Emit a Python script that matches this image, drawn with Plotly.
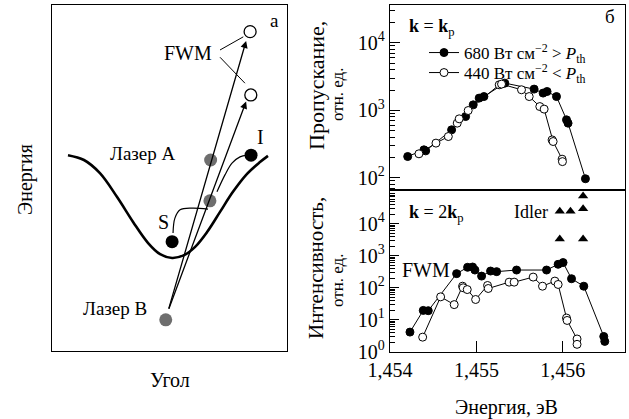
import plotly.graph_objects as go

W, H = 629, 419
FONT = "Liberation Serif, DejaVu Serif, serif"

# ---------------- Panel б, top: transmission (k = kp) ----------------
e_top_680 = [1.454205, 1.454393, 1.454413, 1.454713, 1.454875, 1.454963, 1.455032, 1.455087,
             1.455329, 1.455668, 1.455772, 1.455818, 1.455927, 1.456043, 1.456061, 1.456262]
t_top_680 = [207, 260, 251, 514, 809, 1205, 1517, 1600,
             2528, 2061, 1800, 1900, 1600, 723, 646, 97]

e_top_440 = [1.454335, 1.454532, 1.454675, 1.454778, 1.454801, 1.454905, 1.455264, 1.455291,
             1.455522, 1.455611, 1.455734, 1.455784, 1.455876, 1.455888, 1.455992, 1.455996]
t_top_440 = [227, 327, 409, 646, 748, 993, 2388, 2444,
             2015, 1600, 1137, 1042, 365, 345, 189, 174]

# ---------------- Panel б, bottom: FWM intensity (k = 2kp) ----------------
e_bot_680 = [1.454231, 1.454385, 1.454443, 1.454771, 1.454898, 1.454956, 1.454983, 1.455060,
             1.455164, 1.455234, 1.455465, 1.455812, 1.455946, 1.456003, 1.456101, 1.456243,
             1.456474, 1.456486]
i_bot_680 = [4.1, 19.6, 19.2, 277, 437, 447, 359, 232,
             334, 320, 359, 359, 543, 615, 192, 112,
             3.0, 2.1]

e_bot_440 = [1.454378, 1.454586, 1.454743, 1.454840, 1.454847, 1.454894, 1.454991, 1.455129,
             1.455137, 1.455379, 1.455437, 1.455657, 1.455765, 1.455908, 1.455946, 1.456043,
             1.456050, 1.456165, 1.456165]
i_bot_440 = [2.85, 52, 29.7, 112, 100, 88, 43, 118,
             95, 150, 150, 216, 112, 162, 127, 11.3,
             9.5, 2.5, 1.7]

e_idler = [1.455965, 1.456089, 1.456235, 1.456235, 1.455965, 1.456235]
i_idler = [24900, 24900, 29500, 74300, 3340, 3340]

x_tickvals = [1.454, 1.455, 1.456]
x_ticktext = ["1,454", "1,455", "1,456"]
top_tickvals = [1e2, 1e3, 1e4]
top_ticktext = ["10<sup>2</sup>", "10<sup>3</sup>", "10<sup>4</sup>"]
bot_tickvals = [1e0, 1e1, 1e2, 1e3, 1e4]
bot_ticktext = ["10<sup>0</sup>", "10<sup>1</sup>", "10<sup>2</sup>", "10<sup>3</sup>", "10<sup>4</sup>"]
minor_mantissas = [2, 3, 4, 5, 6, 7, 8, 9]
top_decades = [10, 100, 1000, 10000]
bot_decades = [1, 10, 100, 1000, 10000]

# ---------------- Panel а: schematic (arbitrary units, angle vs energy) ----------------
disp_angle = [6.8, 13.6, 20.4, 27.7, 34.5, 40.9, 46.0, 51.1, 56.2, 60.9, 66.0, 71.5, 77.0, 83.0, 88.5, 91.9]
disp_energy = [56.6, 55.2, 51.4, 44.5, 37.3, 31.2, 28.0, 26.9, 27.7, 30.1, 34.4, 40.2, 46.0, 51.2, 54.6, 56.4]

gray_angle = [48.4, 67.2, 67.5]          # Laser B, pump on curve, Laser A
gray_energy = [9.0, 43.4, 55.2]
black_angle = [51.1, 84.7]               # S, I
black_energy = [31.6, 56.6]
fwm_angle = [84.3, 84.6]
fwm_energy = [92.3, 74.0]

s_path_angle = [66.4, 59.6, 54.5, 52.3, 51.5]
s_path_energy = [41.0, 41.3, 40.8, 38.4, 34.1]
i_path_angle = [70.2, 73.6, 76.6, 80.0, 83.0]
i_path_energy = [46.0, 50.9, 54.3, 56.1, 56.6]

arrow_start = (49.5, 11.8)
arrow_ends = [(82.6, 89.6), (82.6, 72.1)]
leader_from = [(71.5, 87.0), (71.5, 84.9)]
leader_to = [(81.4, 90.8), (82.1, 77.4)]


def px(xp):
    return xp / W


def py(yp):
    return 1 - yp / H


fig = go.Figure()

# bottom panel traces
fig.add_trace(go.Scatter(x=e_bot_680, y=i_bot_680, mode="lines+markers", xaxis="x", yaxis="y",
                         line=dict(color="black", width=1),
                         marker=dict(symbol="circle", size=8, color="black", line=dict(color="black", width=1)),
                         showlegend=False))
fig.add_trace(go.Scatter(x=e_bot_440, y=i_bot_440, mode="lines+markers", xaxis="x", yaxis="y",
                         line=dict(color="black", width=1),
                         marker=dict(symbol="circle", size=8, color="white", line=dict(color="black", width=1)),
                         showlegend=False))
fig.add_trace(go.Scatter(x=e_idler, y=i_idler, mode="markers", xaxis="x", yaxis="y",
                         marker=dict(symbol="triangle-up", size=9, color="black"),
                         showlegend=False, cliponaxis=False))

# top panel traces
fig.add_trace(go.Scatter(x=e_top_680, y=t_top_680, mode="lines+markers", xaxis="x2", yaxis="y2",
                         line=dict(color="black", width=1),
                         marker=dict(symbol="circle", size=8, color="black", line=dict(color="black", width=1)),
                         name="680 Вт см<sup>−2</sup> > <i>P</i><sub>th</sub>", legend="legend"))
fig.add_trace(go.Scatter(x=e_top_440, y=t_top_440, mode="lines+markers", xaxis="x2", yaxis="y2",
                         line=dict(color="black", width=1),
                         marker=dict(symbol="circle", size=8, color="white", line=dict(color="black", width=1)),
                         name="440 Вт см<sup>−2</sup> < <i>P</i><sub>th</sub>", legend="legend2"))

# panel a traces
fig.add_trace(go.Scatter(x=disp_angle, y=disp_energy, mode="lines", xaxis="x3", yaxis="y3",
                         line=dict(color="black", width=2.6, shape="spline"), showlegend=False))
fig.add_trace(go.Scatter(x=s_path_angle, y=s_path_energy, mode="lines", xaxis="x3", yaxis="y3",
                         line=dict(color="black", width=1.2, shape="spline"), showlegend=False))
fig.add_trace(go.Scatter(x=i_path_angle, y=i_path_energy, mode="lines", xaxis="x3", yaxis="y3",
                         line=dict(color="black", width=1.2, shape="spline"), showlegend=False))
for (x0, y0), (x1, y1) in zip(leader_from, leader_to):
    fig.add_trace(go.Scatter(x=[x0, x1], y=[y0, y1], mode="lines", xaxis="x3", yaxis="y3",
                             line=dict(color="black", width=1), showlegend=False))
fig.add_trace(go.Scatter(x=gray_angle, y=gray_energy, mode="markers", xaxis="x3", yaxis="y3",
                         marker=dict(size=13, color="#6e6e6e"), showlegend=False))
fig.add_trace(go.Scatter(x=black_angle, y=black_energy, mode="markers", xaxis="x3", yaxis="y3",
                         marker=dict(size=13, color="black"), showlegend=False))
fig.add_trace(go.Scatter(x=fwm_angle, y=fwm_energy, mode="markers", xaxis="x3", yaxis="y3",
                         marker=dict(size=12, color="white", line=dict(color="black", width=1.3)),
                         showlegend=False))

ann = []
for (x1, y1) in arrow_ends:
    ann.append(dict(x=x1, y=y1, ax=arrow_start[0], ay=arrow_start[1], xref="x3", yref="y3",
                    axref="x3", ayref="y3", showarrow=True, arrowhead=2, arrowsize=1.1,
                    arrowwidth=1.3, arrowcolor="black", text=""))

tf = dict(family=FONT, color="black")


def label(text, x, y, size, xref="x3", yref="y3", xanchor="center", yanchor="middle", angle=0):
    ann.append(dict(text=text, x=x, y=y, xref=xref, yref=yref, showarrow=False,
                    xanchor=xanchor, yanchor=yanchor, textangle=angle, font=dict(size=size, **tf)))


# panel a labels
label("FWM", 58.0, 86.0, 20)
label("Лазер A", 38.9, 57.1, 19)
label("Лазер B", 26.8, 12.4, 19)
label("S", 47.4, 37.4, 20)
label("I", 88.9, 61.9, 20)
label("а", 94.5, 95.5, 19)
label("Энергия", px(25), py(180), 20, "paper", "paper", angle=-90)
label("Угол", px(170), py(380), 20, "paper", "paper")

# panel b labels
label("<b>k</b> = <b>k</b><sub>p</sub>", px(407), py(27), 18, "paper", "paper", xanchor="left")
label("б", px(617), py(17), 19, "paper", "paper", xanchor="right")
label("<b>k</b> = 2<b>k</b><sub>p</sub>", px(407), py(213), 18, "paper", "paper", xanchor="left")
label("Idler", px(512), py(212), 18, "paper", "paper", xanchor="left")
label("FWM", px(400), py(270), 20, "paper", "paper", xanchor="left")
label("Пропускание,", px(316), py(85), 22, "paper", "paper", angle=-90)
label("отн. ед.", px(337), py(94), 17, "paper", "paper", angle=-90)
label("Интенсивность,", px(316), py(268), 21, "paper", "paper", angle=-90)
label("отн. ед.", px(337), py(280), 17, "paper", "paper", angle=-90)
label("Энергия, эВ", px(506), py(407), 20, "paper", "paper")

axis_common = dict(showline=True, linecolor="black", linewidth=1.3, mirror=True, automargin=False,
                   showgrid=False, zeroline=False, tickfont=dict(size=20, **tf))

top_minor = [m * d for d in top_decades for m in minor_mantissas]
bot_minor = [m * d for d in bot_decades for m in minor_mantissas]

legend_common = dict(xanchor="left", yanchor="middle", bgcolor="rgba(0,0,0,0)",
                     font=dict(size=17, **tf), itemwidth=30)

fig.update_layout(
    width=W, height=H, margin=dict(l=0, r=0, t=0, b=0, autoexpand=False),
    paper_bgcolor="white", plot_bgcolor="white",
    font=dict(family=FONT, color="black"),
    annotations=ann,
    legend=dict(x=px(424), y=py(53), **legend_common),
    legend2=dict(x=px(424), y=py(73), **legend_common),
    xaxis=dict(domain=[px(390), px(625)], range=[1.454, 1.45672], anchor="y",
               tickvals=x_tickvals, ticktext=x_ticktext, ticks="inside", ticklen=11,
               tickcolor="black", tickwidth=1, **axis_common),
    yaxis=dict(domain=[py(352), py(190)], type="log", range=[-0.01, 5.06], anchor="x",
               tickvals=bot_tickvals, ticktext=bot_ticktext, ticks="inside", ticklen=9,
               tickcolor="black", tickwidth=1,
               minor=dict(tickmode="array", tickvals=bot_minor, ticks="inside", ticklen=5,
                          tickcolor="black", tickwidth=1, showgrid=False),
               **axis_common),
    xaxis2=dict(domain=[px(390), px(625)], range=[1.454, 1.45672], anchor="y2",
                showticklabels=False, ticks="", **axis_common),
    yaxis2=dict(domain=[py(190), py(5)], type="log", range=[1.82, 4.56], anchor="x2",
                tickvals=top_tickvals, ticktext=top_ticktext, ticks="inside", ticklen=10,
                tickcolor="black", tickwidth=1,
                minor=dict(tickmode="array", tickvals=top_minor, ticks="inside", ticklen=5,
                           tickcolor="black", tickwidth=1, showgrid=False),
                **axis_common),
    xaxis3=dict(domain=[px(52), px(287)], range=[0, 100], anchor="y3",
                showticklabels=False, ticks="", **axis_common),
    yaxis3=dict(domain=[py(351), py(5)], range=[0, 100], anchor="x3",
                showticklabels=False, ticks="", **axis_common),
)

fig.write_html("out.html")
